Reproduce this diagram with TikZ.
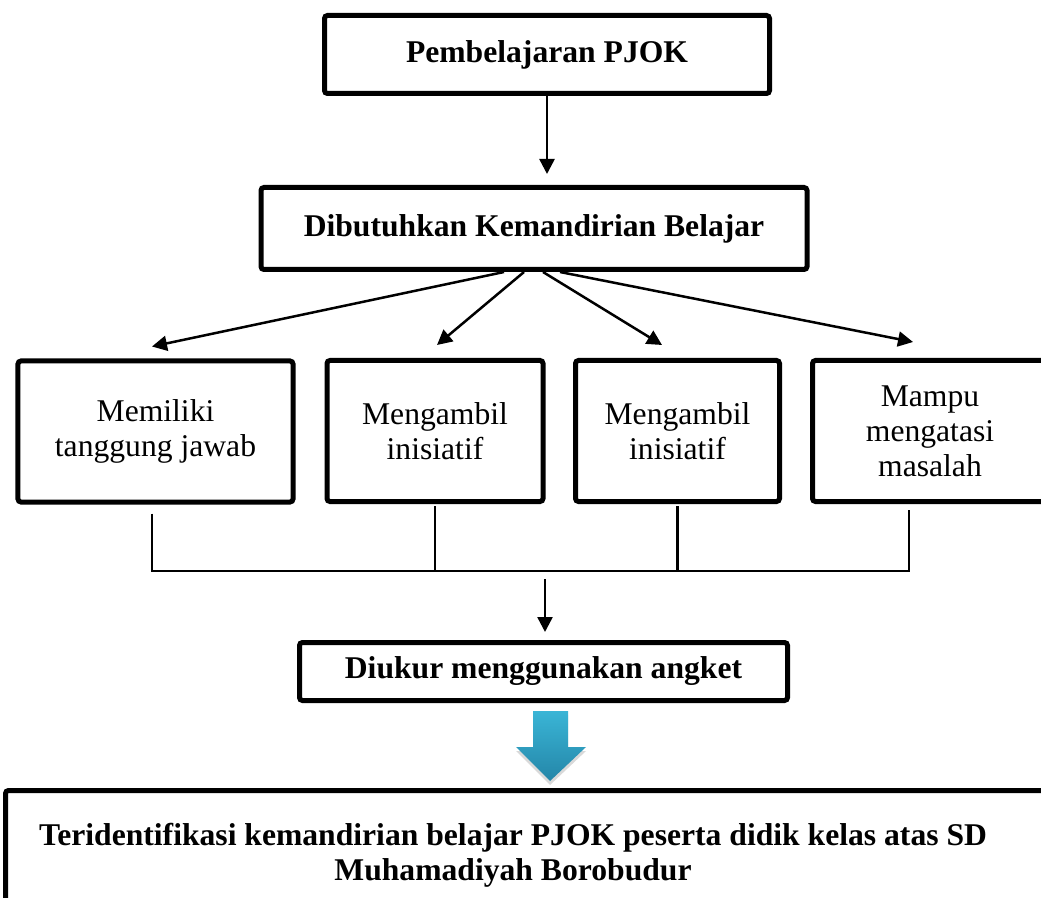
\documentclass[tikz,border=0pt]{standalone}
\usepackage{fontspec}
\setmainfont{Liberation Serif}
\usepackage{tikz}
\usetikzlibrary{arrows.meta,shadows}
\definecolor{panahbiru}{RGB}{58,181,214}
\definecolor{panahgelap}{RGB}{36,134,168}

\tikzset{
  judul/.style={draw, line width=1mm, rounded corners=0.6mm, align=center, font=\fontsize{18}{20}\selectfont\bfseries, inner sep=0pt},
  aspek/.style={draw, line width=1mm, rounded corners=0.6mm, align=center, inner sep=0pt, minimum height=28.2mm},
  panah/.style={-{Triangle[width=3mm,length=3mm]}, line width=0.5mm},
  garis/.style={line width=0.5mm},
}

\begin{document}
\begin{tikzpicture}[x=0.2mm, y=-0.2mm, font=\fontsize{18}{20}\selectfont]
    \useasboundingbox (0,0) rectangle (1041,898);
    \clip (0,0) rectangle (1041,898);

    % alur utama
    \node[judul, minimum width=89mm, minimum height=15.6mm] (pjok) at (547,54.5) {Pembelajaran PJOK};
    \node[judul, minimum width=109.2mm, minimum height=16.4mm] (butuh) at (534,228.5) {Dibutuhkan Kemandirian Belajar};

    % aspek kemandirian
    \node[aspek, minimum width=55mm] (tanggung) at (155.5,431.5) {Memiliki\\tanggung jawab};
    \node[aspek, minimum width=43.2mm] (inisiatifA) at (435,431) {Mengambil\\inisiatif};
    \node[aspek, minimum width=40.8mm] (inisiatifB) at (677.5,431) {Mengambil\\inisiatif};
    \node[aspek, minimum width=47mm] (masalah) at (930,431) {Mampu\\mengatasi\\masalah};

    \node[judul, minimum width=97.6mm, minimum height=11.6mm] (diukur) at (543.5,671.5) {Diukur menggunakan angket};

    \draw[panah, shorten >=2.2mm] (pjok.south) -- (pjok.south |- butuh.north);

    \draw[panah] ([xshift=-6mm]butuh.south) -- ([xshift=-0.7mm, yshift=2.4mm]tanggung.north);
    \draw[panah] ([xshift=-2mm]butuh.south) -- ([xshift=0.4mm, yshift=2.6mm]inisiatifA.north);
    \draw[panah] ([xshift=1.8mm]butuh.south) -- ([xshift=-3.1mm, yshift=2.6mm]inisiatifB.north);
    \draw[panah] ([xshift=5.2mm]butuh.south) -- ([xshift=-3.4mm, yshift=3.2mm]masalah.north);

    % garis penggabung
    \coordinate (bar) at (545,571);
    \draw[garis] ([xshift=-0.7mm, yshift=-1.8mm]tanggung.south) |- ([xshift=-4.2mm]masalah.south |- bar) -- ([xshift=-4.2mm, yshift=-1.2mm]masalah.south);
    \draw[garis] ([yshift=-0.4mm]inisiatifA.south) -- (inisiatifA.south |- bar);
    \draw[garis] ([yshift=-0.4mm]inisiatifB.south) -- (inisiatifB.south |- bar);
    \draw[panah, shorten >=1.6mm] ([yshift=-1.6mm]bar) -- (bar |- diukur.north);

    % panah biru
    \shade[top color=panahbiru, bottom color=panahgelap,
        drop shadow={opacity=0.3, shadow xshift=0mm, shadow yshift=-0.8mm}]
        (533,711) -- (568,711) -- (568,747) -- (586,747) -- (550,781)
        -- (516,747) -- (533,747) -- cycle;

    % kesimpulan
    \draw[line width=1mm, rounded corners=0.6mm] (5.5,790.5) rectangle (1070,930);
    \node[align=center, font=\fontsize{18}{20}\selectfont\bfseries] (hasil) at (513,855)
        {Teridentifikasi kemandirian belajar PJOK peserta didik kelas atas SD\\Muhamadiyah Borobudur};
\end{tikzpicture}
\end{document}
